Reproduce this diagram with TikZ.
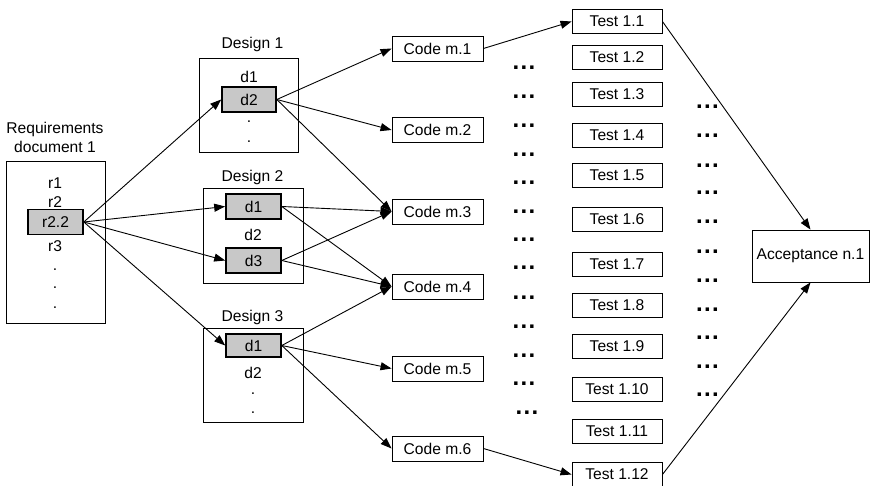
\documentclass[tikz,border=0pt]{standalone}
\usepackage{fontspec}
\setmainfont{Liberation Sans}
\usetikzlibrary{arrows.meta, positioning}
\definecolor{shade}{RGB}{200,200,200}
\newcommand{\trio}{.\hspace{1.3pt}.\hspace{1.3pt}.}
\tikzset{
  plainbox/.style={draw, line width=0.9pt, inner sep=0pt, minimum height=25pt},
  hitbox/.style={draw, line width=1.6pt, fill=shade, inner sep=0pt,
                 minimum width=55pt, minimum height=25pt},
  txt/.style={inner sep=0pt},
  elide/.style={inner sep=0pt, font=\fontsize{24}{24}\bfseries},
  flow/.style={-{Triangle[length=11pt,width=8pt]}, line width=0.9pt}
}

\begin{document}
\begin{tikzpicture}[x=1pt, y=-1pt, font=\fontsize{15.6}{19}\selectfont]
    \useasboundingbox (0,0) rectangle (878,486);

    % requirements
    \node[plainbox, minimum width=99pt, minimum height=162pt] (req) at (55.5,242) {};
    \node[txt, align=center] (reqlab) at (55,137) {Requirements\\document 1};
    \node[txt] (r1) at (55,183) {r1};
    \node[txt] (r2) at (55,202) {r2};
    \node[hitbox] (r22) at (55.5,222) {r2.2};
    \node[txt] (r3) at (55,246) {r3};
    \node[txt] (rdot1) at (55,270) {.};
    \node[txt] (rdot2) at (55,288) {.};
    \node[txt] (rdot3) at (55,308) {.};

    % designs
    \node[plainbox, minimum width=99pt, minimum height=94pt] (des1) at (248.5,105) {};
    \node[txt] (des1lab) at (252.5,44) {Design 1};
    \node[txt] (d11) at (249,77) {d1};
    \node[hitbox, minimum width=54pt] (d12) at (249,99.5) {d2};
    \node[txt] (d1dot1) at (249,122) {.};
    \node[txt] (d1dot2) at (249,142) {.};

    \node[plainbox, minimum width=100pt, minimum height=95pt] (des2) at (253,235.5) {};
    \node[txt] (des2lab) at (252.5,177.5) {Design 2};
    \node[hitbox] (d21) at (253.5,206.5) {d1};
    \node[txt] (d22) at (253,234.5) {d2};
    \node[hitbox] (d23) at (253.5,260.5) {d3};

    \node[plainbox, minimum width=100pt, minimum height=94pt] (des3) at (253,375) {};
    \node[txt] (des3lab) at (252.5,317) {Design 3};
    \node[hitbox, minimum height=23pt] (d31) at (253.5,345.5) {d1};
    \node[txt] (d32) at (253,372.5) {d2};
    \node[txt] (d3dot1) at (253,394) {.};
    \node[txt] (d3dot2) at (253,413) {.};

    % code
    \foreach \n/\y in {1/48.5, 2/130, 3/211.5, 4/286.5, 5/368.5, 6/448.5}
      \node[plainbox, minimum width=91pt] (code\n) at (437.5,\y) {Code m.\n};

    % tests
    \foreach \n/\y in {1/21.5, 2/57, 3/94.5, 4/135, 5/175, 6/219.5, 7/264.5,
                       8/305.5, 9/346, 10/389.5, 11/431.5, 12/474.5}
      \node[plainbox, minimum width=90pt, minimum height=24pt] (test\n) at (617,\y) {Test 1.\n};

    \foreach \y [count=\i] in {68,97,126,155,183,212,240,268,298,327,356,384}
      \node[elide] (gapa\i) at (524,\y) {\trio};
    \node[elide] (gapa13) at (527,413) {\trio};
    \foreach \y [count=\i] in {107,136,166,193,222,252,281,310,338,367,395}
      \node[elide] (gapb\i) at (707.5,\y) {\trio};

    \node[plainbox, minimum width=117pt, minimum height=52pt] (acc) at (810.5,256) {Acceptance n.1};

    % links
    \draw[flow] (r22.east) -- (d12.west);
    \draw[flow] (r22.east) -- (d21.west);
    \draw[flow] (r22.east) -- (d23.west);
    \draw[flow] (r22.east) -- (d31.west);

    \draw[flow] (d12.east) -- (code1.west);
    \draw[flow] (d12.east) -- (code2.west);
    \draw[flow] (d12.east) -- (code3.west);
    \draw[flow] (d21.east) -- (code3.west);
    \draw[flow] (d21.east) -- (code4.west);
    \draw[flow] (d23.east) -- (code3.west);
    \draw[flow] (d23.east) -- (code4.west);
    \draw[flow] (d31.east) -- (code4.west);
    \draw[flow] (d31.east) -- (code5.west);
    \draw[flow] (d31.east) -- (code6.west);

    \draw[flow] (code1.east) -- (test1.west);
    \draw[flow] (code6.east) -- (test12.west);
    \draw[flow] (test1.east) -- (acc.north);
    \draw[flow] (test12.east) -- (acc.south);
\end{tikzpicture}
\end{document}
